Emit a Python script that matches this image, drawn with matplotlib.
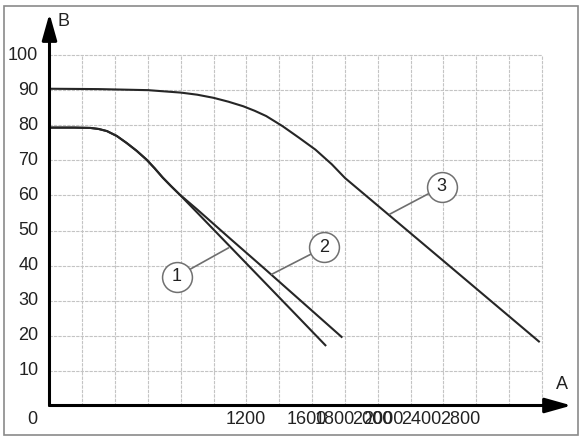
import numpy as np
import matplotlib
matplotlib.use("Agg")
import matplotlib.pyplot as plt
from matplotlib.patches import Rectangle

plt.rcParams["font.family"] = ["Liberation Sans", "DejaVu Sans"]

# curve data (A, B)
a_common = [0, 150, 250, 300, 350, 410, 470, 530, 590, 640, 690, 740, 790]
b_common = [79.4, 79.4, 79.3, 79.0, 78.4, 77.0, 75.0, 72.8, 70.3, 67.8, 65.1, 62.7, 60.4]

a_curve1 = a_common + [900, 1100, 1300, 1500, 1685]
b_curve1 = b_common + [55.1, 45.4, 35.7, 26.0, 17.0]

a_curve2 = a_common + [900, 1100, 1300, 1500, 1784]
b_curve2 = b_common + [56.0, 47.7, 39.5, 31.2, 19.4]

a_curve3 = [0, 300, 600, 800, 900, 1000, 1090, 1180, 1250, 1320, 1420, 1520, 1620,
            1720, 1800, 2400, 2986]
b_curve3 = [90.5, 90.4, 90.1, 89.4, 88.8, 87.9, 86.8, 85.5, 84.2, 82.7, 79.8, 76.5,
            73.1, 68.9, 65.0, 41.3, 18.1]

# grid
grid_a = list(range(200, 3001, 200))
grid_b = list(range(10, 101, 10))

# tick labels (positions as they sit in the picture)
y_ticks = [10, 20, 30, 40, 50, 60, 70, 80, 90, 100]
x_tick_pos = [-104, 1194, 1566, 1739, 1965, 2032, 2263, 2501]
x_tick_lab = ["0", "1200", "1600", "1800", "2000", "2000", "2400", "2800"]

# callouts: label, circle centre, point on curve
callouts = [
    ("1", (775, 36.8), (1089, 45.0)),
    ("2", (1674, 45.2), (1354, 37.5)),
    ("3", (2389, 62.5), (2074, 54.7)),
]

fig = plt.figure(figsize=(5.81, 4.40), dpi=100)
ax = fig.add_axes([0, 0, 1, 1])
ax.set_xlim(-301.5, 3237.6)
ax.set_ylim(-9.857, 115.857)
ax.axis("off")

# outer frame
fig.patches.append(Rectangle((4 / 581, 5 / 440), 574 / 581, 429 / 440,
                             transform=fig.transFigure, fill=False,
                             edgecolor="#8a8a8a", linewidth=1.2))

gc = "#c4c4c4"
ax.vlines(grid_a, 0, 100, colors=gc, linewidth=0.8, linestyles=(0, (3, 1)))
ax.hlines(grid_b, 0, 3000, colors=gc, linewidth=0.8, linestyles=(0, (3, 1)))

lc = "#262626"
ax.plot(a_curve1, b_curve1, color=lc, lw=1.5, solid_capstyle="butt")
ax.plot(a_curve2, b_curve2, color=lc, lw=1.5, solid_capstyle="butt")
ax.plot(a_curve3, b_curve3, color=lc, lw=1.5, solid_capstyle="butt")

# axes with arrows
arrow = dict(arrowstyle="-|>,head_length=1.6,head_width=0.45", color="black",
             lw=2.2, shrinkA=0, shrinkB=0)
ax.annotate("", xy=(3180, 0), xytext=(0, 0), arrowprops=arrow)
ax.annotate("", xy=(0, 112.0), xytext=(0, 0), arrowprops=arrow)

tc = "#222222"
fs = 13
ax.text(3124, 6.0, "A", fontsize=fs, color=tc, ha="center", va="center")
ax.text(88, 109.8, "B", fontsize=fs, color=tc, ha="center", va="center")

for v in y_ticks:
    ax.text(-68, v, str(v), fontsize=fs, color=tc, ha="right", va="center")
for p, lab in zip(x_tick_pos, x_tick_lab):
    ax.text(p, -4.1, lab, fontsize=fs, color=tc, ha="center", va="center")

for lab, c, pt in callouts:
    ax.plot([c[0], pt[0]], [c[1], pt[1]], color="#6e6e6e", lw=1.2, zorder=3)
    ax.plot(c[0], c[1], "o", ms=21.5, mfc="white", mec="#707070", mew=1.1, zorder=4)
    ax.text(c[0], c[1], lab, fontsize=fs, color=tc, ha="center", va="center", zorder=5)

fig.savefig("out.png", dpi=100)
